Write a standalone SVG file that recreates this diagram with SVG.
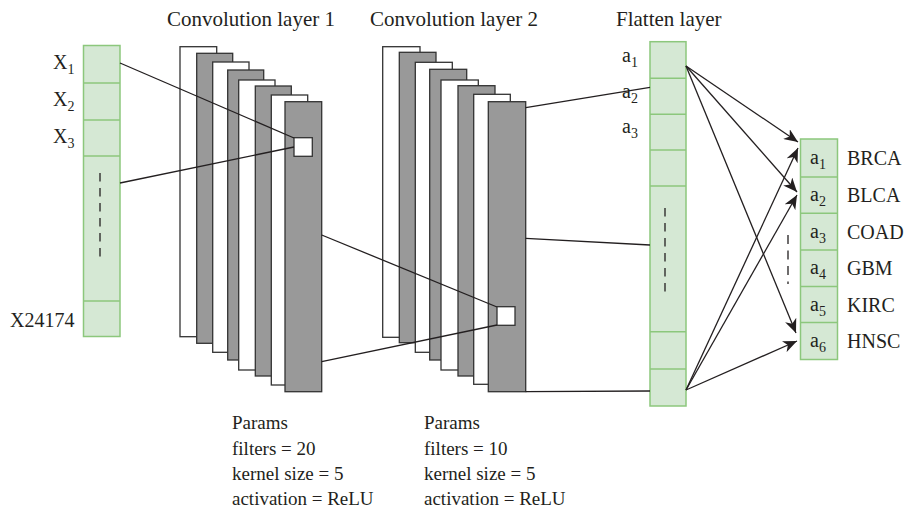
<svg xmlns="http://www.w3.org/2000/svg" width="906" height="511" viewBox="0 0 906 511">
<style>
text{font-family:"Liberation Serif","Times New Roman",serif;fill:#231f20;font-size:20px}
.t{font-size:21px}
.p{font-size:19px}
.sub{font-size:14px}
.cell{fill:#d5e8d4;stroke:#8cc77c;stroke-width:1.5}
.div{stroke:#8cc77c;stroke-width:1.5}
.w{fill:#ffffff;stroke:#333333;stroke-width:1.3}
.g{fill:#999999;stroke:#333333;stroke-width:1.3}
.ln{stroke:#231f20;stroke-width:1.3;fill:none}
.ar{stroke:#231f20;stroke-width:1.3;fill:none;marker-end:url(#ah)}
.dash{stroke:#231f20;stroke-width:1.3;stroke-dasharray:8.5,6.5}
</style>
<defs>
<marker id="ah" markerUnits="userSpaceOnUse" markerWidth="16" markerHeight="12" refX="14" refY="6" orient="auto">
<path d="M0,0 L14,6 L0,12 L4,6 Z" fill="#231f20"/>
</marker>
</defs>
<rect width="906" height="511" fill="#ffffff"/>

<g id="titles">
<text class="t" x="167" y="26">Convolution layer 1</text>
<text class="t" x="370" y="26">Convolution layer 2</text>
<text class="t" x="616" y="26">Flatten layer</text>
</g>

<g id="input">
<rect class="cell" x="83.5" y="45.5" width="36.5" height="291"/>
<line class="div" x1="83.5" y1="83" x2="120" y2="83"/>
<line class="div" x1="83.5" y1="120" x2="120" y2="120"/>
<line class="div" x1="83.5" y1="156" x2="120" y2="156"/>
<line class="div" x1="83.5" y1="301" x2="120" y2="301"/>
<line class="dash" x1="100" y1="173" x2="100" y2="263"/>
<text x="53" y="69">X<tspan class="sub" dy="5">1</tspan></text>
<text x="53" y="106">X<tspan class="sub" dy="5">2</tspan></text>
<text x="53" y="143">X<tspan class="sub" dy="5">3</tspan></text>
<text x="10" y="327">X24174</text>
</g>

<g id="conv1">
<rect class="w" x="180" y="46.7" width="36.7" height="290"/>
<rect class="g" x="196.7" y="53.3" width="36" height="290"/>
<rect class="w" x="212.7" y="62" width="36.3" height="290.3"/>
<rect class="g" x="227.7" y="70" width="36" height="290"/>
<rect class="w" x="238.7" y="80" width="36.3" height="290"/>
<rect class="g" x="255.3" y="86" width="36" height="290"/>
<rect class="w" x="271.3" y="95" width="36.4" height="290"/>
<rect class="g" x="285" y="101.7" width="36.7" height="290"/>
<rect class="w" x="294" y="137.7" width="18.3" height="18.6"/>
</g>

<g id="conv2">
<rect class="w" x="382.7" y="46.7" width="37.3" height="290.6"/>
<rect class="g" x="399.3" y="52.3" width="36.7" height="290.4"/>
<rect class="w" x="415.3" y="62.3" width="37" height="290"/>
<rect class="g" x="429.7" y="69.3" width="37" height="290.7"/>
<rect class="w" x="441" y="80" width="37.3" height="290"/>
<rect class="g" x="458" y="85.7" width="37" height="290.3"/>
<rect class="w" x="473.7" y="94.3" width="36.6" height="290"/>
<rect class="g" x="488.3" y="101.7" width="37.4" height="290"/>
<rect class="w" x="497" y="306.7" width="18" height="18.6"/>
</g>

<g id="flatten">
<rect class="cell" x="650" y="41.7" width="36" height="364.3"/>
<line class="div" x1="650" y1="78.3" x2="686" y2="78.3"/>
<line class="div" x1="650" y1="114.3" x2="686" y2="114.3"/>
<line class="div" x1="650" y1="150" x2="686" y2="150"/>
<line class="div" x1="650" y1="186" x2="686" y2="186"/>
<line class="div" x1="650" y1="331.7" x2="686" y2="331.7"/>
<line class="div" x1="650" y1="369" x2="686" y2="369"/>
<line class="dash" x1="665" y1="208" x2="665" y2="297"/>
<text x="622" y="62">a<tspan class="sub" dy="5">1</tspan></text>
<text x="622" y="98">a<tspan class="sub" dy="5">2</tspan></text>
<text x="622" y="133">a<tspan class="sub" dy="5">3</tspan></text>
</g>

<g id="output">
<rect class="cell" x="800.5" y="139" width="37" height="220.5"/>
<line class="div" x1="800.5" y1="177" x2="837.5" y2="177"/>
<line class="div" x1="800.5" y1="213.3" x2="837.5" y2="213.3"/>
<line class="div" x1="800.5" y1="250" x2="837.5" y2="250"/>
<line class="div" x1="800.5" y1="286.5" x2="837.5" y2="286.5"/>
<line class="div" x1="800.5" y1="322.5" x2="837.5" y2="322.5"/>
<line class="dash" x1="788" y1="235" x2="788" y2="284" style="stroke-dasharray:9,6.5"/>
<text x="810" y="164">a<tspan class="sub" dy="5">1</tspan></text>
<text x="810" y="201">a<tspan class="sub" dy="5">2</tspan></text>
<text x="810" y="238">a<tspan class="sub" dy="5">3</tspan></text>
<text x="810" y="274">a<tspan class="sub" dy="5">4</tspan></text>
<text x="810" y="311">a<tspan class="sub" dy="5">5</tspan></text>
<text x="810" y="347">a<tspan class="sub" dy="5">6</tspan></text>
<text x="847" y="165">BRCA</text>
<text x="847" y="202">BLCA</text>
<text x="847" y="239">COAD</text>
<text x="847" y="275">GBM</text>
<text x="847" y="312">KIRC</text>
<text x="847" y="348">HNSC</text>
</g>

<g id="params1">
<text class="p" x="232" y="429">Params</text>
<text class="p" x="232" y="455">filters = 20</text>
<text class="p" x="232" y="480">kernel size = 5</text>
<text class="p" x="232" y="505">activation = ReLU</text>
</g>
<g id="params2">
<text class="p" x="424" y="429">Params</text>
<text class="p" x="424" y="455">filters = 10</text>
<text class="p" x="424" y="480">kernel size = 5</text>
<text class="p" x="424" y="505">activation = ReLU</text>
</g>

<g id="connectors">
<line class="ln" x1="120" y1="63" x2="294" y2="138"/>
<line class="ln" x1="120" y1="183" x2="294" y2="147"/>
<line class="ln" x1="321.7" y1="235" x2="497" y2="307"/>
<line class="ln" x1="321.7" y1="361.7" x2="497" y2="325"/>
<line class="ln" x1="525.7" y1="107.7" x2="650" y2="87.3"/>
<line class="ln" x1="525.7" y1="238.3" x2="650" y2="245"/>
<line class="ln" x1="525.7" y1="391.7" x2="650" y2="391"/>
<line class="ar" x1="686" y1="66" x2="798" y2="142"/>
<line class="ar" x1="686" y1="66" x2="797" y2="192"/>
<line class="ar" x1="686" y1="66" x2="796" y2="333"/>
<line class="ar" x1="686" y1="390" x2="798" y2="148"/>
<line class="ar" x1="686" y1="390" x2="797" y2="195"/>
<line class="ar" x1="686" y1="390" x2="797" y2="341"/>
</g>
</svg>
